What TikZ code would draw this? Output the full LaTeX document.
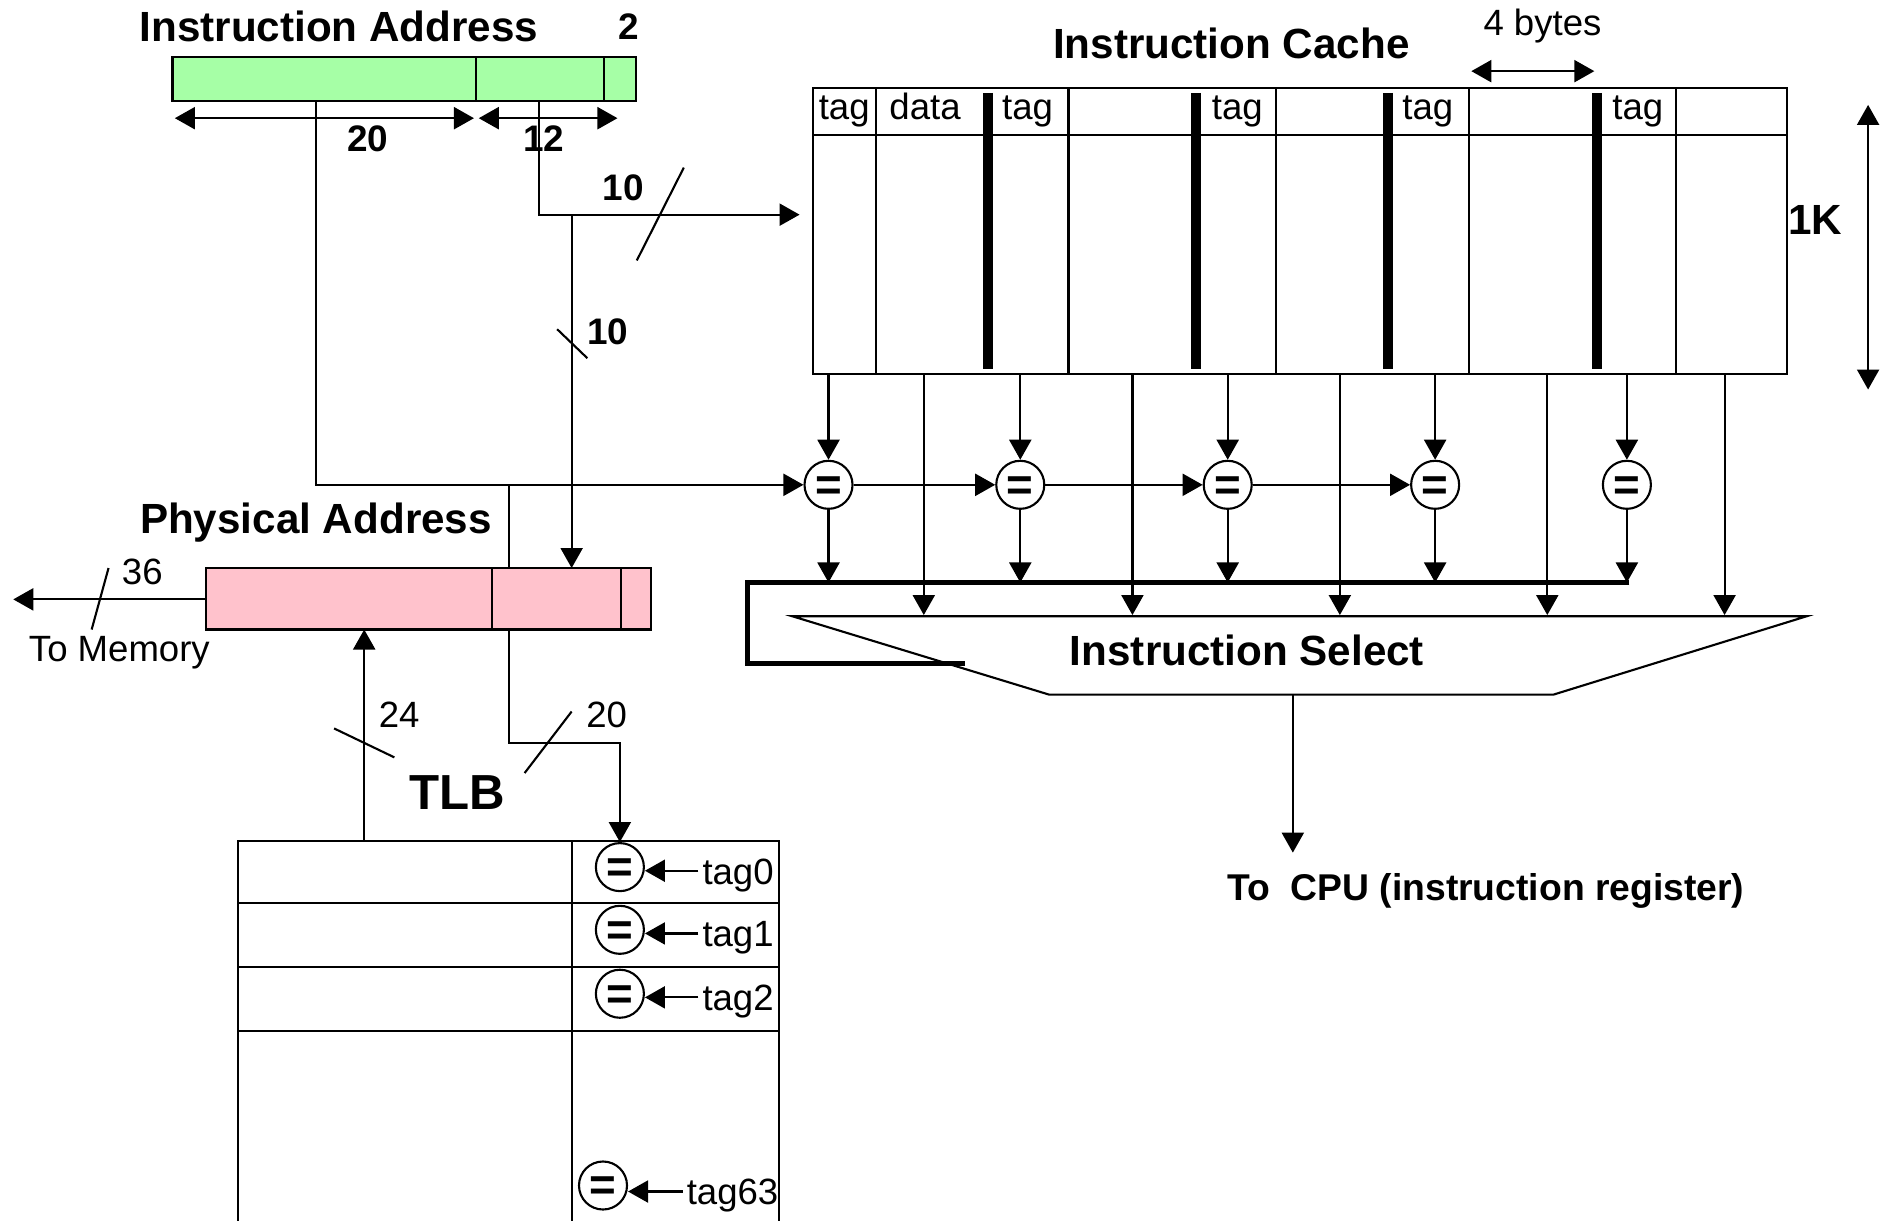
\documentclass[tikz,border=0pt]{standalone}
\usepackage{fontspec}
\setmainfont{Liberation Sans}
\usetikzlibrary{calc,arrows.meta}
\definecolor{addrgreen}{RGB}{166,255,166}
\definecolor{physpink}{RGB}{255,194,204}
\def\cmpnode(#1)(#2){\node[cmp] (#1) at (#2) {\raisebox{-4.4pt}[0pt][0pt]{=}};}
\tikzset{
	wire/.style={line width=0.6pt},
	arr/.style={wire,-{Triangle[length=2mm,width=2.2mm]}},
	dim/.style={wire,{Triangle[length=2mm,width=2.2mm]}-{Triangle[length=2mm,width=2.2mm]}},
	cmp/.style={circle,draw,fill=white,line width=0.6pt,minimum size=4.8mm,inner sep=0pt,font=\fontsize{13}{13}\selectfont\bfseries},
	title/.style={font=\fontsize{12}{14}\selectfont\bfseries},
	bits/.style={font=\fontsize{10.5}{12}\selectfont\bfseries},
	lbl/.style={font=\fontsize{10.4}{12}\selectfont},
	bar/.style={line width=1mm},
	bus/.style={line width=1.3pt},
}

\begin{document}
\begin{tikzpicture}[x=0.01206cm,y=-0.01206cm]
			\useasboundingbox (0,0) rectangle (1568,1012);
			%%%%% START %%%%%
			% instruction address
			\node[title] (ia-title) at (281,22) {Instruction Address};
			\node[bits] (ia-two) at (521,22) {2};
			\draw[wire,fill=addrgreen] (143,47) rectangle (527,84);
			\draw[wire] (395,47) -- (395,84);
			\draw[wire] (501,47) -- (501,84);
			\draw[dim] (145,98) -- (393,98);
			\draw[dim] (397,98) -- (512,98);
			\node[bits] (n20) at (305,115) {20};
			\node[bits] (n12) at (451,115) {12};
			\coordinate (ia-tag) at (262,84);
			\coordinate (ia-idx) at (447,84);
			
			% instruction cache
			\node[title] (ic-title) at (1021,36) {Instruction Cache};
			\node[lbl] (bytes) at (1279,22) {4 bytes};
			\draw[dim] (1220,59) -- (1322,59);
			\draw[wire] (674,73) rectangle (1482,310);
			\draw[wire] (674,112) -- (1482,112);
			\foreach \x in {726,886,1058,1218,1390}
				\draw[wire] (\x,73) -- (\x,310);
			\foreach \x in {819,992,1151,1324}
				\draw[bar] (\x,77) -- (\x,306);
			\foreach \x/\t in {700/tag,767/data,852/tag,1026/tag,1184/tag,1358/tag}
				\node[lbl,anchor=base] at (\x,99) {\t};
			\node[title] (onek) at (1505,182) {1K};
			\draw[dim] (1549,87) -- (1549,323);
			\coordinate (cache-in) at (663,178);
			\coordinate (idx-split) at (474,178);
			
			% index and tag wires
			\draw[arr] (ia-idx) |- (cache-in);
			\draw[wire] (528,216) -- (567,139);
			\node[bits] (n10a) at (517,156) {10};
			
			% comparators
			\foreach \x/\i in {687/1,846/2,1018/3,1190/4,1349/5}{
				\cmpnode(c\i)(\x,402)
				\draw[arr] (\x,310) -- (c\i.north);
			}
			\foreach \x in {766,939,1111,1283,1430}
				\draw[arr] (\x,310) -- (\x,510);
			\draw[arr] (ia-tag) |- (c1.west);
			\foreach \a/\b in {c1/c2,c2/c3,c3/c4}
				\draw[arr] (\a.east) -- (\b.west);
			\coordinate (bus-l) at (620,483);
			\coordinate (bus-r) at (1351,483);
			\foreach \i in {1,...,5}
				\draw[arr] (c\i.south) -- (c\i.south |- bus-l);
			\draw[bus] (bus-r) -- (bus-l) -- (620,550) -- (800,550);
			
			% instruction select
			\draw[wire] (657,511) -- (1498,511) -- (1288,576) -- (870,576) -- cycle;
			\node[title] (sel) at (1034,539) {Instruction Select};
			\coordinate (sel-out) at (1072,576);
			\coordinate (cpu) at (1072,707);
			\draw[arr] (sel-out) -- (cpu);
			\node[font=\fontsize{10.6}{12}\selectfont\bfseries] (cpu-lbl) at (1232,739) {To\ \ CPU (instruction register)};
			
			% physical address
			\node[title] (pa-title) at (262,433) {Physical Address};
			\draw[wire,fill=physpink] (171,471) rectangle (540,522);
			\draw[wire] (408,471) -- (408,522);
			\draw[wire] (515,471) -- (515,522);
			\coordinate (pa-tagin) at (422,471);
			\coordinate (pa-idx) at (474,471);
			\coordinate (pa-out) at (422,522);
			\coordinate (pa-in) at (302,522);
			\coordinate (pa-mem) at (171,497);
			\coordinate (mem) at (11,497);
			\draw[wire] (pa-tagin) -- (pa-tagin |- c1);
			\draw[arr] (idx-split) -- (pa-idx);
			\draw[wire] (462,273) -- (487,297);
			\node[bits] (n10b) at (504,275) {10};
			\draw[arr] (pa-mem) -- (mem);
			\draw[wire] (90,471) -- (76,522);
			\node[lbl] (n36) at (118,474) {36};
			\node[lbl] (tomem) at (99,541) {To Memory};
			
			% TLB
			\node[font=\fontsize{14}{16}\selectfont\bfseries] (tlb) at (379,657) {TLB};
			\draw[wire] (197,1015) -- (197,697) -- (646,697) -- (646,1015);
			\draw[wire] (474,697) -- (474,1015);
			\foreach \y in {749,802,855}
				\draw[wire] (197,\y) -- (646,\y);
			\coordinate (tlb-out) at (302,697);
			\draw[arr] (tlb-out) -- (pa-in);
			\draw[wire] (277,604) -- (327,628);
			\node[lbl] (n24) at (331,593) {24};
			\foreach \y/\i in {719/0,771/1,824/2}{
				\cmpnode(t\i)(514,\y)
				\node[lbl,anchor=base west,inner sep=1pt] (tg\i) at (579,\y+14) {tag\i};
				\coordinate (ta\i) at ($(tg\i.base west)+(0,-11)$);
				\draw[arr] (ta\i) -- (ta\i -| t\i.east);
			}
			\cmpnode(t63)(500,983)
			\node[lbl,anchor=base west,inner sep=1pt] (tg63) at (566,999) {tag63};
			\coordinate (ta63) at ($(tg63.base west)+(0,-11)$);
			\draw[arr] (ta63) -- (ta63 -| t63.east);
			\draw[arr] (pa-out) -- (422,616) -| (t0.north);
			\draw[wire] (474,590) -- (435,641);
			\node[lbl] (n20b) at (503,593) {20};
			%%%%% END %%%%%
\end{tikzpicture}
\end{document}
